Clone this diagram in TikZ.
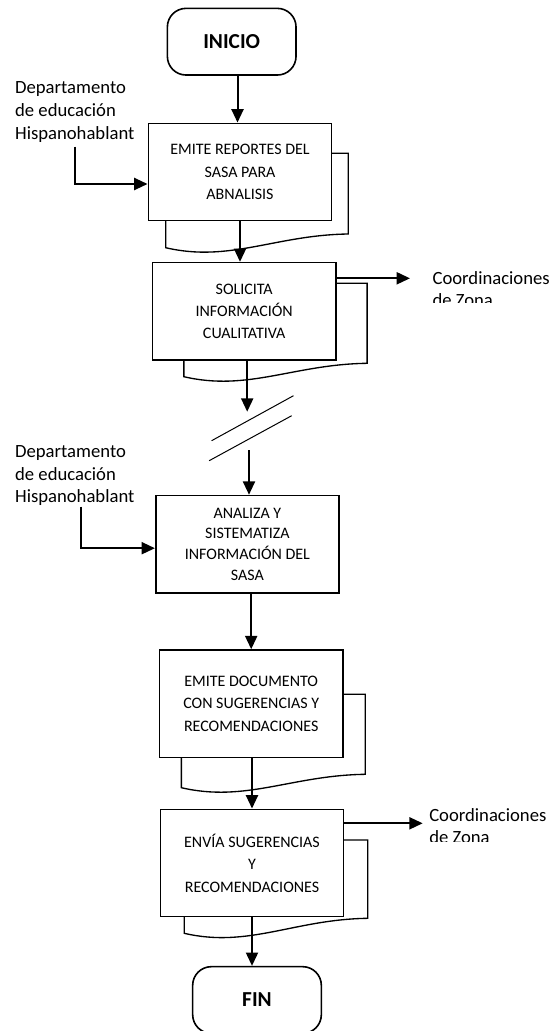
\documentclass[tikz,border=0pt]{standalone}
\usepackage{fontspec}
\setmainfont{Carlito}
\usetikzlibrary{arrows.meta,positioning}
\tikzset{
  terminal/.style={draw,line width=1.2pt,rounded corners=14pt,fill=white,
    minimum width=96.5pt,minimum height=50pt,inner sep=0pt,
    font=\fontsize{16}{19}\selectfont\bfseries},
  proceso/.style={draw,line width=1.2pt,fill=white,align=center,inner sep=2pt,
    minimum width=137.5pt,minimum height=73pt,
    font=\fontsize{12}{16.8}\selectfont},
  largo/.style={minimum height=80.5pt},
  hoja/.style={draw,line width=1pt,fill=white},
  etiqueta/.style={align=left,inner sep=0pt,font=\fontsize{14}{17}\selectfont},
  flecha/.style={-{Triangle[length=10pt,width=9pt]},line width=1.5pt},
  corte/.style={line width=.75pt},
}

\begin{document}
\begin{tikzpicture}[x=0.75pt,y=-0.75pt]
  \useasboundingbox (0,0) rectangle (552,1031);
  % hojas de documento detras de las cajas
  \foreach \l/\r/\t/\a/\b in {165.7/348.3/153.3/247.7/234,
      183.9/367.1/283.3/376.7/363.3,181.4/365.3/694.3/787.7/774.3,
      184.3/367.7/840/933.3/918.3}
    \draw[hoja] (\l,\t) -- (\l,\a)
      .. controls ({\l+0.35*(\r-\l)},{\a+15}) and ({\l+0.6*(\r-\l)},{\b+1}) ..
      (\r,\b) -- (\r,\t) -- cycle;

  \node[terminal] (ini) at (231.7,41.7) {INICIO};
  \node[proceso] (b1) at (240,172) {EMITE REPORTES DEL\\SASA PARA\\ABNALISIS};
  \node[proceso] (b2) at (244.2,311.3) {SOLICITA\\INFORMACIÓN\\CUALITATIVA};
  \node[proceso,font=\fontsize{12}{15.5}\selectfont] (b3) at (247.4,544.2)
    {ANALIZA Y\\SISTEMATIZA\\INFORMACIÓN DEL\\SASA};
  \node[proceso,largo] (b4) at (251.2,703.7)
    {EMITE DOCUMENTO\\CON SUGERENCIAS Y\\RECOMENDACIONES};
  \node[proceso,largo] (b5) at (252,863)
    {ENVÍA SUGERENCIAS\\Y\\RECOMENDACIONES};
  \node[terminal] (fin) at (257,1000) {FIN};

  \node[etiqueta,anchor=west] (dep1) at (14.9,112)
    {Departamento\\de educación\\Hispanohablant};
  \node[etiqueta,anchor=west] (dep2) at (14.9,475.7)
    {Departamento\\de educación\\Hispanohablant};
  \begin{scope}
    \clip (395,250) rectangle (552,302.5);
    \node[etiqueta,anchor=west] (coo1) at (432.3,289) {Coordinaciones\\de Zona};
  \end{scope}
  \begin{scope}
    \clip (395,790) rectangle (552,841);
    \node[etiqueta,anchor=west] (coo2) at (429,826) {Coordinaciones\\de Zona};
  \end{scope}

  \coordinate (e1) at (74.7,146.7);
  \coordinate (e2) at (81.1,506.7);
  \coordinate (s1) at (410,278.3);
  \coordinate (s2) at (422.7,823.3);
  \coordinate (c0) at (237.5,75);
  \coordinate (c1) at (247.2,411.7);
  \coordinate (c2) at (249,450);

  % flujo principal
  \draw[flecha] (c0) -- (c0 |- b1.north);
  \draw[flecha] (b1) -- (b1 |- b2.north);
  \draw[flecha] (b2.south -| c1) -- (c1);
  \draw[corte] (211.6,440.7) -- (293.5,395.7);
  \draw[corte] (209.2,460.7) -- (291.7,415.7);
  \draw[flecha] (c2) -- (c2 |- b3.north);
  \draw[flecha] (b4.north |- b3.south) -- (b4.north);
  \draw[flecha] (b5.north |- b4.south) -- (b5.north);
  \draw[flecha] (b5) -- (b5 |- fin.north);

  % entradas y salidas
  \draw[flecha] (e1) |- ([yshift=-9pt]b1.west);
  \draw[flecha] (e2) |- ([yshift=-3pt]b3.west);
  \draw[flecha] (b2.east |- s1) -- (s1);
  \draw[flecha] (b5.east |- s2) -- (s2);
\end{tikzpicture}
\end{document}
